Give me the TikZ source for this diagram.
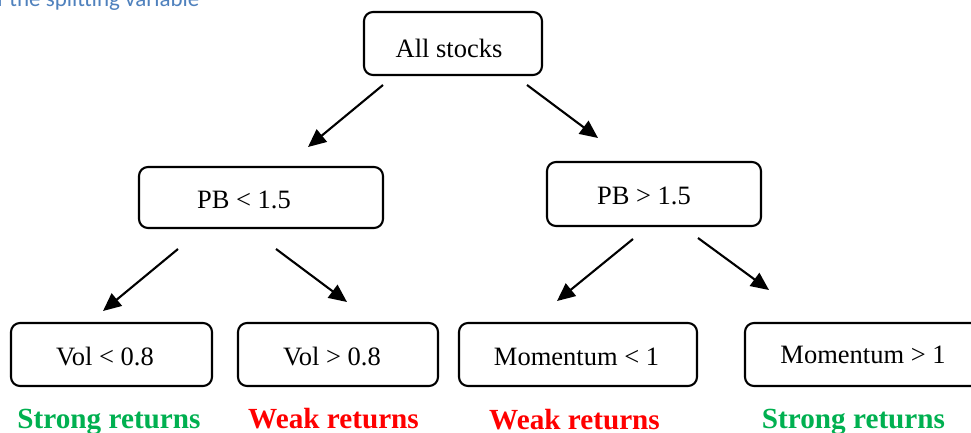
\documentclass[tikz,border=0pt]{standalone}
\usepackage{fontspec}
\setmainfont{Liberation Serif}
\newfontfamily\capfont{Carlito}
\usetikzlibrary{arrows.meta}
\definecolor{wordgreen}{HTML}{00B050}
\definecolor{wordred}{HTML}{FF0000}
\definecolor{capblue}{HTML}{4F81BD}
\begin{document}
\begin{tikzpicture}[x=1pt,y=-1pt,
  box/.style={draw=black,line width=2.1pt,rounded corners=9pt},
  lbl/.style={anchor=base,inner sep=0pt,font=\fontsize{26.5}{30}\selectfont},
  res/.style={anchor=base,inner sep=0pt,font=\fontsize{29.2}{32}\selectfont\bfseries},
  arr/.style={line width=2.1pt,-{Triangle[length=18pt,width=16pt]}}]
\useasboundingbox (0,0) rectangle (971,433);
% caption fragment
\node[anchor=base west,inner sep=0pt,text=capblue,font=\capfont\fontsize{23}{26}\selectfont] (cap) at (-3,7) {f the splitting variable};
% boxes
\draw[box] (364,12) rectangle (542,75);
\node[lbl] (all) at (449,58) {All stocks};
\draw[box] (139,167) rectangle (383,228);
\node[lbl] (pbl) at (244,208) {PB < 1.5};
\draw[box] (547,162) rectangle (761,226);
\node[lbl] (pbr) at (644,204) {PB > 1.5};
\draw[box] (11,323) rectangle (212,386);
\node[lbl] (voll) at (105,365) {Vol < 0.8};
\draw[box] (238,323) rectangle (438,386);
\node[lbl] (volh) at (332,365) {Vol > 0.8};
\draw[box] (459,323) rectangle (697,386);
\node[lbl] (moml) at (576.5,365) {Momentum < 1};
\draw[box] (745,323) rectangle (985,386);
\node[lbl] (momh) at (863,363) {Momentum > 1};
% results
\node[res,text=wordgreen] (r1) at (109,428) {Strong returns};
\node[res,text=wordred] (r2) at (333.5,428) {Weak returns};
\node[res,text=wordred] (r3) at (574.5,429) {Weak returns};
\node[res,text=wordgreen] (r4) at (853.5,428) {Strong returns};
% arrow endpoints
\coordinate (a1s) at (383,85);  \coordinate (a1e) at (308,147);
\coordinate (a2s) at (527,85);  \coordinate (a2e) at (598,138);
\coordinate (a3s) at (178,249); \coordinate (a3e) at (103,311);
\coordinate (a4s) at (276,249); \coordinate (a4e) at (347,302);
\coordinate (a5s) at (633,239); \coordinate (a5e) at (557,301);
\coordinate (a6s) at (698,238); \coordinate (a6e) at (769,290);
\draw[arr] (a1s) -- (a1e);
\draw[arr] (a2s) -- (a2e);
\draw[arr] (a3s) -- (a3e);
\draw[arr] (a4s) -- (a4e);
\draw[arr] (a5s) -- (a5e);
\draw[arr] (a6s) -- (a6e);
\end{tikzpicture}
\end{document}
